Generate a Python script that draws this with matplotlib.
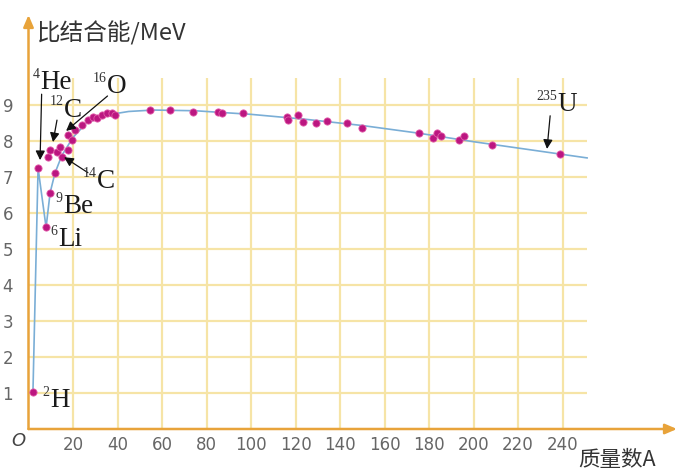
import matplotlib
matplotlib.use("Agg")
import matplotlib.pyplot as plt

# ---- data ----
point_A = [2.0, 4.3, 7.9, 9.7, 11.9, 8.8, 9.7, 12.8, 14.2, 15.0, 17.8, 17.8, 19.6,
           20.9, 24.0, 26.7, 29.0, 30.8, 33.0, 35.3, 37.5, 38.9, 54.6, 63.6, 74.0,
           85.2, 87.0, 96.4, 116.2, 116.6, 121.1, 123.4, 129.2, 134.2, 143.1, 149.9,
           175.5, 181.8, 183.6, 185.4, 193.5, 195.7, 208.3, 238.9]
point_E = [1.03, 7.25, 5.61, 6.56, 7.11, 7.55, 7.75, 7.69, 7.83, 7.55, 7.75, 8.17, 8.03,
           8.31, 8.44, 8.58, 8.67, 8.64, 8.72, 8.78, 8.78, 8.72, 8.86, 8.86, 8.81,
           8.81, 8.78, 8.78, 8.67, 8.58, 8.72, 8.53, 8.50, 8.56, 8.50, 8.36,
           8.22, 8.08, 8.22, 8.14, 8.03, 8.14, 7.89, 7.64]

curve_A = [2.0, 4.3, 7.9, 9.7, 11.9, 15, 20, 26, 35, 45, 56, 75, 100, 125, 150, 175, 200, 225, 251]
curve_E = [1.03, 7.25, 5.6, 6.56, 7.11, 7.6, 8.1, 8.5, 8.72, 8.82, 8.86, 8.84, 8.74, 8.6, 8.43, 8.22, 7.98, 7.76, 7.53]

x_ticks = [20, 40, 60, 80, 100, 120, 140, 160, 180, 200, 220, 240]
y_ticks = [1, 2, 3, 4, 5, 6, 7, 8, 9]

# nuclide labels: (mass number text, symbol, label anchor A, E, arrow start, arrow end)
labels = [
    ("4", "He", 5.2, 9.45, (5.9, 9.3), (5.2, 7.47)),
    ("12", "C", 16.0, 8.68, (12.8, 8.58), (11.0, 7.97)),
    ("16", "O", 35.3, 9.33, (35.5, 9.25), (16.9, 8.28)),
    ("14", "C", 30.8, 6.69, (26.7, 7.12), (16.0, 7.55)),
    ("9", "Be", 15.5, 6.0, None, None),
    ("6", "Li", 13.3, 5.08, None, None),
    ("2", "H", 9.7, 0.61, None, None),
    ("235", "U", 237.5, 8.83, (234.4, 8.7), (233.0, 7.78)),
]

W, H = 684, 472
fig = plt.figure(figsize=(W / 100, H / 100), dpi=100)
ax = fig.add_axes([28.5 / W, 43 / H, (677 - 28.5) / W, (429 - 15) / H])
ax.set_xlim(0, 291.4)
ax.set_ylim(0, 11.5)
for s in ax.spines.values():
    s.set_visible(False)

grid_c = "#f6e4a6"
ax.vlines(x_ticks, 0, 9.75, color=grid_c, lw=1.6, zorder=1)
ax.hlines(y_ticks, 0, 251, color=grid_c, lw=1.6, zorder=1)

axis_c = "#e8a33a"
ax.annotate("", xy=(1.0, 0), xytext=(0, 0), xycoords="axes fraction",
            arrowprops=dict(arrowstyle="-|>,head_length=0.7,head_width=0.3", color=axis_c, lw=1.8,
                            shrinkA=0, shrinkB=0), zorder=3)
ax.annotate("", xy=(0, 1.0), xytext=(0, 0), xycoords="axes fraction",
            arrowprops=dict(arrowstyle="-|>,head_length=0.7,head_width=0.3", color=axis_c, lw=1.8,
                            shrinkA=0, shrinkB=0), zorder=3)

ax.plot(curve_A, curve_E, color="#7aaed6", lw=1.2, zorder=2)
ax.plot(point_A, point_E, "o", ms=5.2, color="#bb1680", mec="#e25aa8", mew=0.6, zorder=4)

ax.set_xticks(x_ticks)
ax.set_yticks(y_ticks)
ax.set_xticklabels([str(v) for v in x_ticks])
ax.set_yticklabels([str(v) for v in y_ticks])
ax.tick_params(length=0, labelsize=12, labelcolor="#666666")
ax.tick_params(axis="x", pad=5)
ax.tick_params(axis="y", pad=11)

serif = "Liberation Serif"
for sup, sym, a, e, start, end in labels:
    ax.text(a, e, sym, fontsize=19.5, family=serif, color="#1a1a1a", ha="left", va="baseline", zorder=6)
    ax.annotate(sup, xy=(a, e), xytext=(-0.3, 8), textcoords="offset points",
                fontsize=10, family=serif, color="#333333", ha="right", va="baseline", zorder=6)
    if start is not None:
        ax.annotate("", xy=end, xytext=start,
                    arrowprops=dict(arrowstyle="-|>,head_length=0.55,head_width=0.28", color="#111111",
                                    lw=0.9, shrinkA=0, shrinkB=0), zorder=5)

cjk = ["Noto Sans CJK SC", "DejaVu Sans"]
fig.text(37 / W, 1 - 33 / H, "比结合能/MeV", fontsize=17, family=cjk, color="#333333",
         ha="left", va="center")
fig.text(578 / W, 1 - 460 / H, "质量数A", fontsize=15.5, family=cjk, color="#333333",
         ha="left", va="center")
fig.text(18 / W, 1 - 441 / H, "O", fontsize=13, style="italic", color="#444444",
         ha="center", va="center")

fig.savefig("out.png", dpi=100)
